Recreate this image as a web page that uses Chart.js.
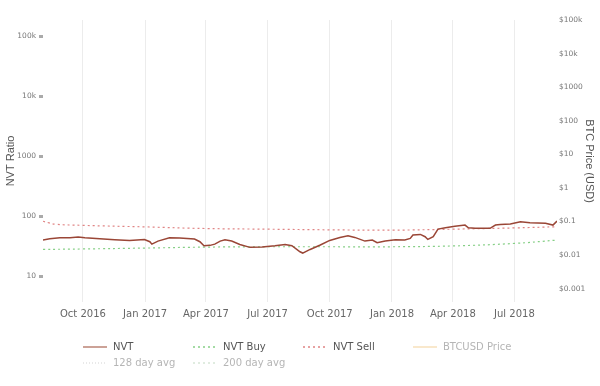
<!DOCTYPE html>
<html>
<head>
    <title>NVT Ratio</title>
    <script src="https://cdn.jsdelivr.net/npm/chart.js"></script>
    <style>
        body { margin: 0; background: #fff; }
        .chart-container { width: 600px; height: 386px; }
    </style>
</head>
<body>
    <div class="chart-container">
        <canvas id="nvtChart"></canvas>
    </div>

    <script>
        // NVT ratio (left axis, log)
        const nvtDates = [
            '2016-08-03', '2016-08-13', '2016-08-28', '2016-09-12', '2016-09-24', '2016-10-04',
            '2016-10-26', '2016-11-17', '2016-12-09', '2016-12-31', '2017-01-08', '2017-01-11',
            '2017-01-20', '2017-02-06', '2017-02-21', '2017-03-15', '2017-03-23', '2017-03-29',
            '2017-04-07', '2017-04-14', '2017-04-22', '2017-04-29', '2017-05-09', '2017-05-21',
            '2017-06-05', '2017-06-23', '2017-07-12', '2017-07-27', '2017-08-06', '2017-08-18',
            '2017-08-22', '2017-09-02', '2017-09-17', '2017-10-01', '2017-10-16', '2017-10-28',
            '2017-11-07', '2017-11-22', '2017-12-03', '2017-12-10', '2017-12-22', '2018-01-06',
            '2018-01-20', '2018-01-28', '2018-02-01', '2018-02-12', '2018-02-19', '2018-02-23',
            '2018-03-03', '2018-03-10', '2018-03-21', '2018-04-04', '2018-04-19', '2018-04-24',
            '2018-05-04', '2018-05-26', '2018-06-03', '2018-06-10', '2018-06-25', '2018-07-10',
            '2018-07-24', '2018-08-16', '2018-08-27', '2018-09-02'
        ];
        const nvtValues = [
            39.8, 41.8, 43.5, 43.5, 44.7, 43.5,
            41.8, 40.3, 39.3, 40.8, 37.4, 34.1,
            38.3, 43.5, 43.0, 41.4, 37.4, 32.0,
            32.5, 34.1, 38.3, 40.3, 38.3, 33.7,
            30.1, 30.5, 32.0, 33.7, 32.0, 25.4,
            24.2, 27.8, 32.9, 39.3, 44.1, 46.8,
            44.1, 38.3, 39.8, 35.9, 38.3, 40.3,
            39.8, 42.4, 48.3, 49.5, 45.3, 40.8,
            45.3, 60.6, 63.7, 67.8, 70.8, 63.7,
            62.4, 62.4, 70.8, 72.5, 73.6, 80.3,
            77.4, 75.6, 70.8, 82.5
        ];

        // buy / sell bands
        const buyDates = ['2016-08-03', '2016-10-01', '2017-01-01', '2017-04-01', '2017-07-01',
                          '2017-10-01', '2018-01-01', '2018-04-01', '2018-07-01', '2018-09-02'];
        const buyValues = [27.8, 28.3, 29.3, 30.4, 30.8, 30.8, 30.8, 31.8, 35.0, 39.8];

        const sellDates = ['2016-08-03', '2016-08-12', '2016-08-21', '2016-10-01', '2017-01-01',
                           '2017-04-01', '2017-07-01', '2017-10-01', '2018-01-01', '2018-04-01',
                           '2018-07-01', '2018-09-02'];
        const sellValues = [82, 77, 73, 70, 66, 62, 60.5, 59, 58.3, 60.5, 63.5, 66.5];

        const tickDates = ['2016-10-01', '2017-01-01', '2017-04-01', '2017-07-01',
                           '2017-10-01', '2018-01-01', '2018-04-01', '2018-07-01'];
        const tickLabels = ['Oct 2016', 'Jan 2017', 'Apr 2017', 'Jul 2017',
                            'Oct 2017', 'Jan 2018', 'Apr 2018', 'Jul 2018'];

        const nvtTicks = [10, 100, 1000, 10000, 100000];
        const nvtTickLabels = ['10', '100', '1000', '10k', '100k'];
        const priceTicks = [0.001, 0.01, 0.1, 1, 10, 100, 1000, 10000, 100000];
        const priceTickLabels = ['$0.001', '$0.01', '$0.1', '$1', '$10', '$100', '$1000', '$10k', '$100k'];

        function toDay(s) {
            const p = s.split('-');
            return Date.UTC(+p[0], +p[1] - 1, +p[2]) / 86400000;
        }
        function pts(dates, values) {
            return dates.map((d, i) => ({ x: toDay(d), y: values[i] }));
        }

        const tickDays = tickDates.map(toDay);

        // legend drawn in fixed columns under the chart
        const columnLegend = {
            id: 'columnLegend',
            afterDraw(chart) {
                const ctx = chart.ctx;
                const area = chart.chartArea;
                ctx.save();
                ctx.font = '10px "DejaVu Sans"';
                ctx.textBaseline = 'middle';
                chart.data.datasets.forEach((ds, i) => {
                    const x = area.left + 40 + (i % 4) * 110;
                    const y = area.bottom + 45 + Math.floor(i / 4) * 16;
                    ctx.beginPath();
                    ctx.strokeStyle = ds.legendColor || ds.borderColor;
                    ctx.lineWidth = 1.3;
                    ctx.setLineDash(ds.borderDash || []);
                    ctx.moveTo(x, y);
                    ctx.lineTo(x + 24, y);
                    ctx.stroke();
                    ctx.setLineDash([]);
                    ctx.fillStyle = ds.hidden ? '#b5b5b5' : '#555';
                    ctx.fillText(ds.label, x + 30, y);
                });
                ctx.restore();
            }
        };

        const ctx = document.getElementById('nvtChart');
        new Chart(ctx, {
            type: 'line',
            data: {
                datasets: [
                    {
                        label: 'NVT',
                        data: pts(nvtDates, nvtValues),
                        borderColor: '#9a4636',
                        legendColor: '#b0705f',
                        borderWidth: 1.5,
                        pointRadius: 0,
                        tension: 0,
                        yAxisID: 'y'
                    },
                    {
                        label: 'NVT Buy',
                        data: pts(buyDates, buyValues),
                        borderColor: '#86cf86',
                        borderWidth: 1.2,
                        borderDash: [2, 3],
                        pointRadius: 0,
                        tension: 0.4,
                        yAxisID: 'y'
                    },
                    {
                        label: 'NVT Sell',
                        data: pts(sellDates, sellValues),
                        borderColor: '#e08484',
                        borderWidth: 1.2,
                        borderDash: [2, 3],
                        pointRadius: 0,
                        tension: 0.4,
                        yAxisID: 'y'
                    },
                    {
                        label: 'BTCUSD Price',
                        data: [],
                        borderColor: '#f6dcb0',
                        hidden: true,
                        pointRadius: 0,
                        yAxisID: 'y1'
                    },
                    {
                        label: '128 day avg',
                        data: [],
                        borderColor: '#e2e2e2',
                        borderDash: [1, 2],
                        hidden: true,
                        pointRadius: 0,
                        yAxisID: 'y'
                    },
                    {
                        label: '200 day avg',
                        data: [],
                        borderColor: '#d6e6d6',
                        borderDash: [2, 3],
                        hidden: true,
                        pointRadius: 0,
                        yAxisID: 'y'
                    }
                ]
            },
            options: {
                responsive: true,
                maintainAspectRatio: false,
                animation: false,
                layout: { padding: { top: 20, left: 0, right: 0, bottom: 0 } },
                plugins: {
                    legend: { display: false },
                    tooltip: { enabled: false }
                },
                scales: {
                    x: {
                        type: 'linear',
                        min: toDay('2016-08-03'),
                        max: toDay('2018-09-02'),
                        afterBuildTicks: s => { s.ticks = tickDays.map(v => ({ value: v })); },
                        afterFit: s => { s.height = 84; },
                        ticks: {
                            autoSkip: false,
                            maxRotation: 0,
                            padding: 6,
                            color: '#666',
                            font: { family: 'DejaVu Sans', size: 10 },
                            callback: function(value) {
                                const i = tickDays.indexOf(value);
                                return i >= 0 ? tickLabels[i] : '';
                            }
                        },
                        grid: { color: '#ececec', drawTicks: false },
                        border: { display: false }
                    },
                    y: {
                        type: 'logarithmic',
                        position: 'left',
                        min: 3.7,
                        max: 185000,
                        afterBuildTicks: s => { s.ticks = nvtTicks.map(v => ({ value: v })); },
                        afterFit: s => { s.width = 43; },
                        title: {
                            display: true,
                            text: 'NVT Ratio',
                            color: '#555',
                            font: { family: 'Liberation Sans', size: 11 },
                            padding: 4
                        },
                        ticks: {
                            padding: 3,
                            color: '#777',
                            font: { family: 'DejaVu Sans', size: 7.5 },
                            callback: function(value) {
                                const i = nvtTicks.indexOf(value);
                                return i >= 0 ? nvtTickLabels[i] : '';
                            }
                        },
                        grid: {
                            drawOnChartArea: false,
                            drawTicks: true,
                            tickLength: 4,
                            tickWidth: 3,
                            tickColor: '#aaa'
                        },
                        border: { display: false }
                    },
                    y1: {
                        type: 'logarithmic',
                        position: 'right',
                        min: 0.0004,
                        max: 100000,
                        afterBuildTicks: s => { s.ticks = priceTicks.map(v => ({ value: v })); },
                        afterFit: s => { s.width = 43; },
                        title: {
                            display: true,
                            text: 'BTC Price (USD)',
                            color: '#555',
                            font: { family: 'Liberation Sans', size: 11 },
                            padding: 4
                        },
                        ticks: {
                            padding: 2,
                            color: '#777',
                            font: { family: 'DejaVu Sans', size: 7.5 },
                            callback: function(value) {
                                const i = priceTicks.indexOf(value);
                                return i >= 0 ? priceTickLabels[i] : '';
                            }
                        },
                        grid: { display: false, drawTicks: false },
                        border: { display: false }
                    }
                }
            },
            plugins: [columnLegend]
        });
    </script>
</body>
</html>
